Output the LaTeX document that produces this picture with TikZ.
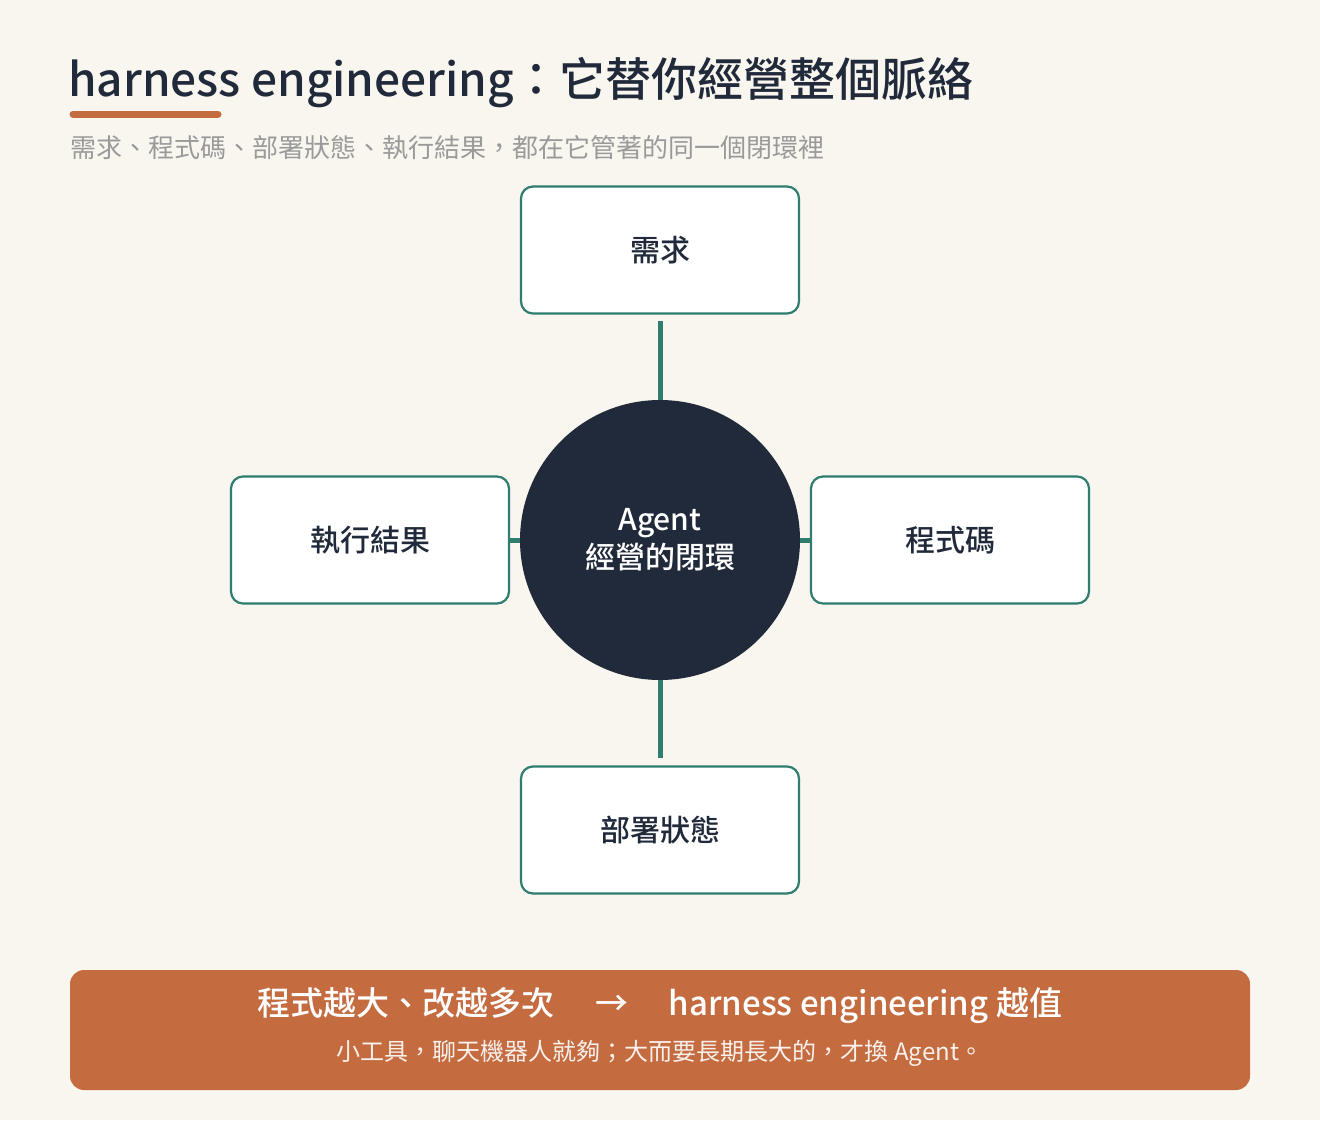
\documentclass[tikz,border=0pt]{standalone}
\usepackage{fontspec}
\setmainfont{Noto Sans CJK TC}[BoldFont={Noto Sans CJK TC Medium}]
\definecolor{bg}{HTML}{F9F6EF}
\definecolor{dark}{HTML}{212A3A}
\definecolor{teal}{HTML}{2E7D6E}
\definecolor{org}{HTML}{C46C40}
\definecolor{gry}{HTML}{9A9A9A}
\begin{document}
\begin{tikzpicture}[x=1pt,y=-1pt,
  box/.style={draw=teal,line width=2.2pt,rounded corners=12pt,fill=white,minimum width=278pt,minimum height=127pt,font=\fontsize{30}{36}\selectfont\bfseries,text=dark},
  link/.style={teal,line width=5pt}]
\fill[bg] (0,0) rectangle (1320,1120);
\useasboundingbox (0,0) rectangle (1320,1120);
\node[anchor=west,text=dark,font=\fontsize{46}{50}\selectfont\bfseries,inner sep=0] (title) at (68,83) {harness engineering：它替你經營整個脈絡};
\draw[org,line width=7pt,line cap=round] (73,114) -- (218,114);
\node[anchor=west,text=gry,font=\fontsize{26}{28}\selectfont,inner sep=0] (sub) at (70,148) {需求、程式碼、部署狀態、執行結果，都在它管著的同一個閉環裡};
\node[circle,fill=dark,minimum size=280pt,inner sep=0,text=white,align=center,font=\fontsize{30}{36}\selectfont\bfseries] (c) at (660,540) {Agent\\[2pt]經營的閉環};
\node[box] (n1) at (660,250) {需求};
\node[box] (n2) at (950,540) {程式碼};
\node[box] (n3) at (660,830) {部署狀態};
\node[box] (n4) at (370,540) {執行結果};
\draw[link] (660,321) -- (c.north);
\draw[link] (c.south) -- (660,758);
\draw[link] (n4.east) -- (c.west);
\draw[link] (c.east) -- (n2.west);
\node[fill=org,rounded corners=14pt,minimum width=1180pt,minimum height=120pt] (ban) at (660,1030) {};
\node[text=white,font=\fontsize{33}{38}\selectfont\bfseries,inner sep=0] (b1) at (660,1006) {程式越大、改越多次\quad\ →\ \quad harness engineering 越值};
\node[text=white!90!org,font=\fontsize{24}{28}\selectfont,inner sep=0] (b2) at (660,1053) {小工具，聊天機器人就夠；大而要長期長大的，才換 Agent。};
\end{tikzpicture}
\end{document}
